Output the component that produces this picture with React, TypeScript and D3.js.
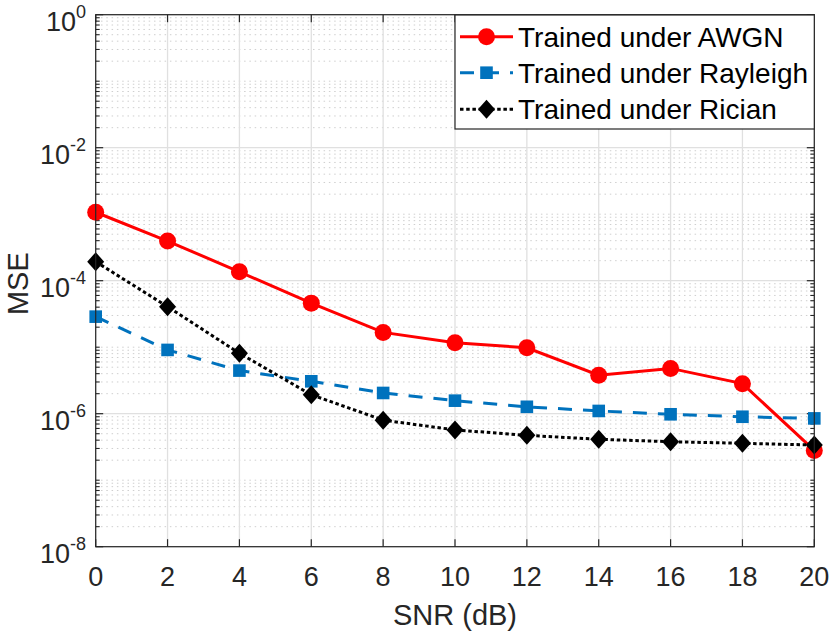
import * as d3 from "d3";

type Series = {
    name: string;
    values: number[];
    color: string;
    dash: string;
    marker: "circle" | "square" | "diamond";
};

const snr = [0, 2, 4, 6, 8, 10, 12, 14, 16, 18, 20];

const awgn = [1.07e-3, 3.95e-4, 1.36e-4, 4.6e-5, 1.67e-5, 1.17e-5, 9.8e-6, 3.8e-6, 4.8e-6, 2.83e-6, 2.8e-7];
const rayleigh = [2.88e-5, 9.1e-6, 4.45e-6, 3.07e-6, 2.05e-6, 1.57e-6, 1.27e-6, 1.1e-6, 9.8e-7, 9.0e-7, 8.5e-7];
const rician = [1.93e-4, 4.07e-5, 8.1e-6, 1.93e-6, 8.0e-7, 5.7e-7, 4.73e-7, 4.12e-7, 3.79e-7, 3.59e-7, 3.38e-7];

const seriesNames = ["Trained under AWGN", "Trained under Rayleigh", "Trained under Rician"];

const xTicks = [0, 2, 4, 6, 8, 10, 12, 14, 16, 18, 20];
const yTickExponents = [0, -2, -4, -6, -8];

const WIDTH = 830;
const HEIGHT = 632;
const left = 95.7;
const right = 814.3;
const top = 14.7;
const bottom = 546.7;

const FONT = "'Liberation Sans', Arial, Helvetica, sans-serif";
const AXIS_COLOR = "#262626";

const series: Series[] = [
    { name: seriesNames[0], values: awgn, color: "#ff0000", dash: "none", marker: "circle" },
    { name: seriesNames[1], values: rayleigh, color: "#0072bd", dash: "14,11", marker: "square" },
    { name: seriesNames[2], values: rician, color: "#000000", dash: "3.5,2.7", marker: "diamond" },
];

const Marker = ({ type, x, y, color }: { type: string; x: number; y: number; color: string }) => {
    if (type === "circle") return <circle cx={x} cy={y} r={8.5} fill={color} />;
    if (type === "square") return <rect x={x - 6.3} y={y - 6.3} width={12.6} height={12.6} fill={color} />;
    return <path d={`M${x},${y - 9.5}L${x + 8.5},${y}L${x},${y + 9.5}L${x - 8.5},${y}Z`} fill={color} />;
};

const App = () => {
    const x = d3.scaleLinear().domain([0, 20]).range([left, right]);
    const y = d3.scaleLog().domain([1e-8, 1]).range([bottom, top]);

    // minor values: 2..9 per decade plus the odd decades
    const minor: number[] = [];
    for (let e = -8; e < 0; e++) {
        for (let m = 1; m <= 9; m++) {
            const v = m * Math.pow(10, e);
            if (m === 1 && e % 2 === 0) continue;
            minor.push(v);
        }
    }
    const major = yTickExponents.map((e) => Math.pow(10, e));

    const line = d3
        .line<number>()
        .x((_, i) => x(snr[i]))
        .y((d) => y(d));

    const legendX = 455;
    const legendY = 15;
    const legendW = right - legendX;
    const legendH = 114;
    const rowY = [36.7, 72.7, 109.3];

    return (
        <div style={{ position: "absolute", left: 0, top: 0 }}>
            <svg width={WIDTH} height={HEIGHT} style={{ display: "block", fontFamily: FONT }}>
                <rect width={WIDTH} height={HEIGHT} fill="#ffffff" />

                {/* minor grid */}
                {minor.map((v, i) => (
                    <line key={"mg" + i} x1={left} x2={right} y1={y(v)} y2={y(v)} stroke="#cfcfcf" strokeWidth={1} strokeDasharray="1.5,3.8" />
                ))}
                {/* major grid */}
                {major.map((v, i) => (
                    <line key={"Mg" + i} x1={left} x2={right} y1={y(v)} y2={y(v)} stroke="#e0e0e0" strokeWidth={1.3} />
                ))}
                {xTicks.map((t) => (
                    <line key={"xg" + t} x1={x(t)} x2={x(t)} y1={top} y2={bottom} stroke="#e0e0e0" strokeWidth={1.3} />
                ))}

                {/* ticks */}
                {xTicks.map((t) => (
                    <g key={"xt" + t}>
                        <line x1={x(t)} x2={x(t)} y1={bottom} y2={bottom - 7.5} stroke={AXIS_COLOR} strokeWidth={1.2} />
                        <line x1={x(t)} x2={x(t)} y1={top} y2={top + 7.5} stroke={AXIS_COLOR} strokeWidth={1.2} />
                    </g>
                ))}
                {minor.map((v, i) => (
                    <g key={"ymt" + i}>
                        <line x1={left} x2={left + 4} y1={y(v)} y2={y(v)} stroke={AXIS_COLOR} strokeWidth={1.1} />
                        <line x1={right} x2={right - 4} y1={y(v)} y2={y(v)} stroke={AXIS_COLOR} strokeWidth={1.1} />
                    </g>
                ))}
                {major.map((v, i) => (
                    <g key={"yMt" + i}>
                        <line x1={left} x2={left + 7.5} y1={y(v)} y2={y(v)} stroke={AXIS_COLOR} strokeWidth={1.2} />
                        <line x1={right} x2={right - 7.5} y1={y(v)} y2={y(v)} stroke={AXIS_COLOR} strokeWidth={1.2} />
                    </g>
                ))}

                {/* series */}
                {series.map((s) => (
                    <g key={s.name}>
                        <path d={line(s.values) || undefined} fill="none" stroke={s.color} strokeWidth={3} strokeDasharray={s.dash} />
                        {s.values.map((v, i) => (
                            <Marker key={i} type={s.marker} x={x(snr[i])} y={y(v)} color={s.color} />
                        ))}
                    </g>
                ))}

                {/* axes box */}
                <rect x={left} y={top} width={right - left} height={bottom - top} fill="none" stroke={AXIS_COLOR} strokeWidth={1.2} />

                {/* x tick labels */}
                {xTicks.map((t) => (
                    <text key={"xl" + t} x={x(t)} y={586} textAnchor="middle" fontSize={27} fill={AXIS_COLOR}>
                        {t}
                    </text>
                ))}
                {/* y tick labels */}
                {yTickExponents.map((e) => (
                    <text key={"yl" + e} x={86} y={y(Math.pow(10, e)) + 16.5} textAnchor="end" fontSize={27} fill={AXIS_COLOR}>
                        10
                        <tspan dy={-13} fontSize={18}>
                            {e === 0 ? "0" : `-${-e}`}
                        </tspan>
                    </text>
                ))}

                {/* axis labels */}
                <text x={(left + right) / 2} y={625} textAnchor="middle" fontSize={29} fill={AXIS_COLOR}>
                    SNR (dB)
                </text>
                <text transform={`translate(27.5,${(top + bottom) / 2 + 3}) rotate(-90)`} textAnchor="middle" fontSize={29} fill={AXIS_COLOR}>
                    MSE
                </text>

                {/* legend */}
                <rect x={legendX} y={legendY} width={legendW} height={legendH} fill="#ffffff" stroke={AXIS_COLOR} strokeWidth={1.2} />
                {series.map((s, i) => (
                    <g key={"lg" + i}>
                        <line x1={460} x2={513} y1={rowY[i]} y2={rowY[i]} stroke={s.color} strokeWidth={3}
                            strokeDasharray={s.marker === "square" ? "14,11" : s.dash} />
                        <Marker type={s.marker} x={486.5} y={rowY[i]} color={s.color} />
                        <text x={518} y={rowY[i] + 10} fontSize={28} fill="#000000">
                            {s.name}
                        </text>
                    </g>
                ))}
            </svg>
        </div>
    );
};

export default App;
